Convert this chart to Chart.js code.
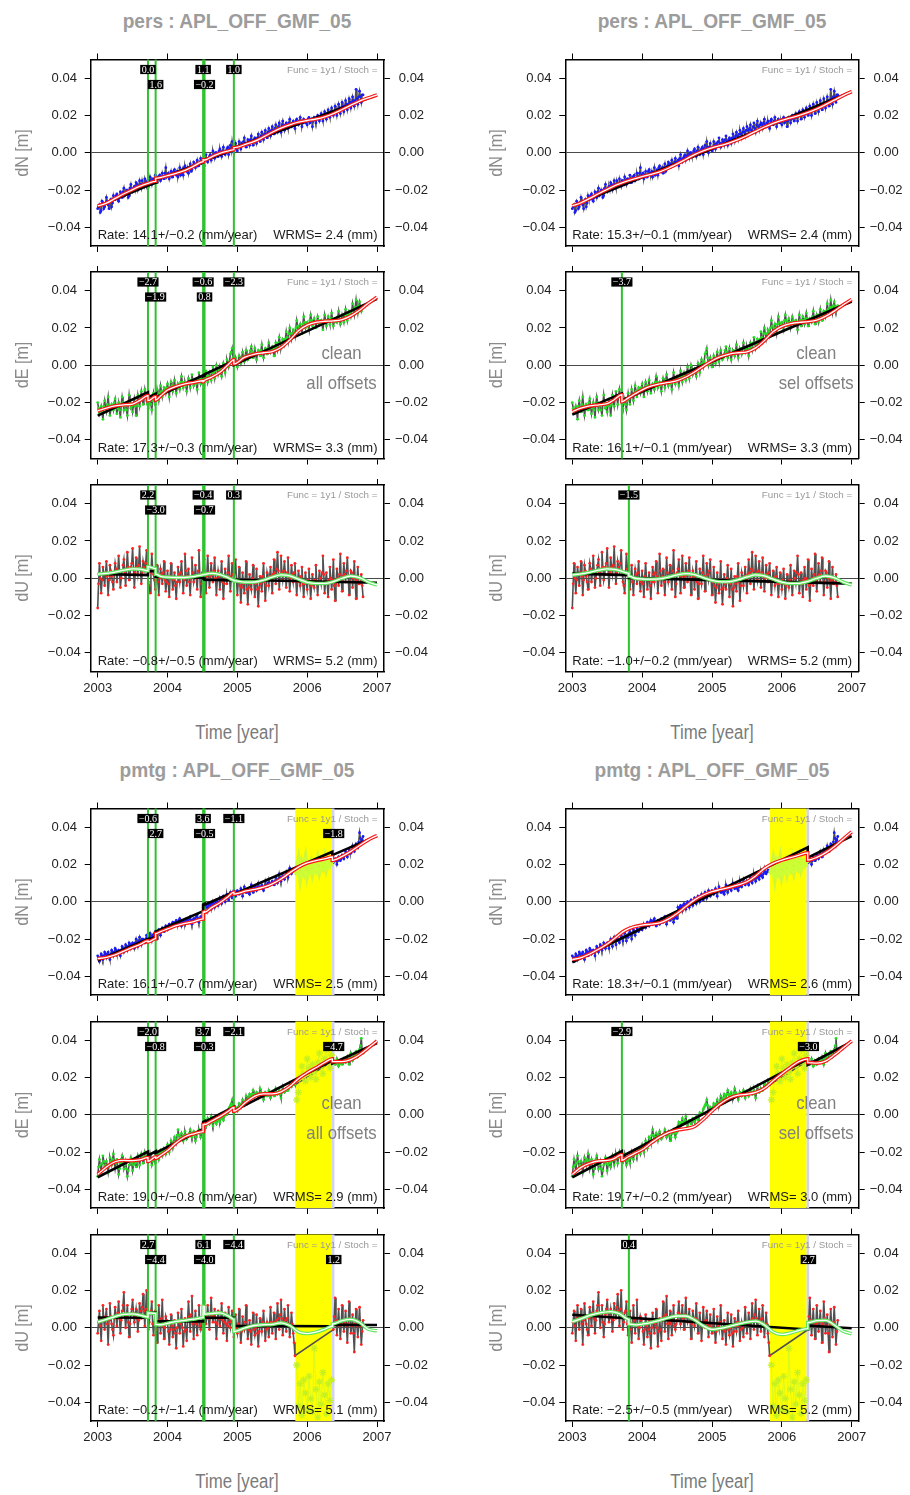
<!DOCTYPE html>
<html><head><meta charset="utf-8">
<script src="https://cdn.jsdelivr.net/npm/chart.js@4.4.1/dist/chart.umd.min.js"></script>
<style>
html,body{margin:0;padding:0;background:#fff;}
body{width:910px;height:1495px;position:relative;overflow:hidden;}
canvas{position:absolute;}
.t{position:absolute;white-space:nowrap;line-height:1;z-index:5;}
</style></head><body>
<script>
// ---------- tick labels / categories ----------
const yearTicks = [2003, 2004, 2005, 2006, 2007];
const yTicks = [-0.04, -0.02, 0, 0.02, 0.04];
const epochStart = 2003.0, epochStep = 0.025;          // sampling of the series (main epochs)
const halfOffset = 0.0125;                             // intermediate epochs
const groupTitles = ['pers : APL_OFF_GMF_05', 'pmtg : APL_OFF_GMF_05'];
const compTitles = {N: 'dN [m]', E: 'dE [m]', U: 'dU [m]'};
const funcText = 'Func = 1y1 / Stoch =';
const yellowSpan = [2005.83, 2006.355];
const flagStartIndex = 114;

// ---------- raw series (mm), main epochs ----------
const persN = [
-30,-28,-31,-27,-29,-24,-28,-26,-29,-23, -25,-22,-26,-21,-24,-19,-22,-20,-23,-17,
-21,-18,-16,-20,-15,-19,-17,-14,-18,-15, -13,-17,-14,-12,-16,-13,-15,-11,-14,-8,
-12,-14,-10,-13,-9,-12,-13,-8,-11,-12, -7,-10,-11,-6,-9,-5,-8,-4,-7,-3,
-6,-7,-1,-5,-2,-4,1,-3,0,-2, 2,-2,3,-1,2,-1,4,6,0,5,
1,6,2,4,8,3,7,4,9,4, 8,5,10,6,11,7,12,8,13,9,
14,10,15,11,16,11,17,12,16,13, 18,14,17,13,18,15,19,14,18,16,
15,19,17,14,19,16,20,17,21,17, 22,18,23,19,24,20,25,20,26,21,
27,22,28,23,29,24,30,25,34,26, 33,27,31];
const persE = [
-20,-26,-22,-29,-19,-25,-17,-27,-21,-24, -18,-26,-20,-28,-17,-24,-21,-27,-16,-23,
-25,-18,-27,-16,-22,-14,-21,-13,-19,-23, -18,-24,-15,-21,-13,-19,-11,-17,-12,-15,
-10,-17,-9,-14,-8,-15,-10,-13,-6,-12, -9,-14,-7,-12,-5,-11,-8,-13,-4,-10,
-6,-11,-3,-9,-4,-8,-1,-7,0,-5, -2,-6,1,-4,3,-1,6,9,0,4,
-1,5,1,7,2,8,3,6,10,4, 9,3,8,5,11,4,9,6,12,7,
10,5,12,8,15,9,14,11,18,13, 20,14,19,16,24,18,22,17,26,20,
23,19,27,21,25,20,26,22,24,19, 27,21,26,22,28,21,25,23,29,22,
27,23,30,24,29,26,33,27,35,28, 34,29,32];
const persU = [
-16,8,-8,6,-4,9,-9,7,1,-6, 8,-2,12,-5,4,10,-4,14,-1,6,
16,-5,11,2,17,-3,9,4,15,-2, -8,13,2,-6,7,-9,5,-3,9,-7,
4,-10,8,-6,3,-11,6,-2,9,-8, 13,-4,5,-9,11,-2,7,-6,15,-10,
3,10,-8,12,-5,8,-2,11,-9,4, -6,9,-11,5,-3,12,-7,8,-1,10,
-9,6,-13,3,-8,9,-14,2,-6,7, -10,5,-15,1,-7,8,-12,3,-4,6,
-8,10,-3,14,-6,12,-1,9,-5,11, -7,7,-2,8,-9,4,-4,6,-10,3,
-6,5,-11,2,-5,7,-9,4,-3,12, -8,3,-10,6,-6,10,-12,5,-4,13,
-7,8,-2,11,-9,4,-5,9,-11,6, -3,2,-10];
const pmtgN = [
-29,-32,-28,-31,-27,-30,-27,-31,-26,-29, -25,-28,-26,-29,-24,-27,-23,-26,-22,-25,
-22,-25,-20,-24,-19,-23,-20,-22,-18,-21, -17,-21,-19,-16,-20,-15,-18,-14,-16,-13,
-15,-12,-14,-11,-13,-10,-12,-9,-13,-10, -12,-9,-11,-8,-12,-9,-10,-7,-11,-8,
-9,-4,-2,-5,-1,-4,0,-3,1,-2, 2,-1,3,0,4,1,5,2,6,3,
6,4,7,3,8,5,6,4,9,5, 8,6,10,7,9,6,11,8,12,9,
11,9,13,10,15,11,14,12,16,13, 18,15,17,16,
null,null,null,null,null,null,null,null,null,null,null,null,null,null,null,null,null,null,null,null,null,
21,23,20,24,22, 25,23,27,24,28,26,30,27,31,29, 37,32,35];
const pmtgE = [
-33,-24,-30,-22,-28,-25,-31,-23,-27,-21, -29,-24,-32,-26,-22,-29,-25,-33,-27,-23,
-30,-25,-28,-22,-27,-21,-26,-20,-23,-25, -21,-27,-23,-26,-20,-24,-19,-22,-18,-21,
-16,-20,-14,-18,-12,-15,-8,-13,-10,-14, -9,-13,-11,-8,-12,-9,-14,-10,-8,-12,
-9,-4,-6,-2,-5,-1,-6,-3,-5,-2, -4,-1,-3,1,0,3,5,8,1,4,
2,6,4,8,5,10,7,11,9,13, 10,12,9,14,11,8,12,10,13,9,
12,10,14,11,13,9,15,12,14,13, 17,15,18,16,
null,null,null,null,null,null,null,null,null,null,null,null,null,null,null,null,null,null,null,null,null,
29,27,30,26,29, 27,30,28,31,27,33,29,32,34,31, 35,41,33];
const pmtgU = [
-3,9,-7,12,-1,10,-9,13,2,-4, 11,1,14,-3,9,19,0,12,-5,7,
15,3,10,-2,13,5,18,1,20,-1, 8,14,-4,9,-8,12,-3,15,-6,6,
2,-9,7,-5,4,-11,8,-3,10,-10, 5,-7,14,-2,17,-6,9,-4,12,-1,
4,14,2,12,-1,16,3,10,-6,9, 1,13,-3,8,-7,11,0,9,-5,7,
-3,10,-8,6,-1,12,-6,4,-9,8, -4,7,-10,5,-2,9,-7,3,-5,11,
-3,8,-6,13,-1,15,-4,10,-2,12, -5,8,-3,-15,
null,null,null,null,null,null,null,null,null,null,null,null,null,null,null,null,null,null,null,null,null,
-1,16,-4,10,-6, 12,-2,9,-8,14,-3,7,-13,10,-5, 11,-9,4];

// ---------- raw series (mm), intermediate epochs ----------
const persN_h = [
-29,-32,-26,-30,-27,-26,-30,-25,-27,-25, -23,-25,-24,-22,-21,-23,-20,-24,-19,-20,
-19,-20,-17,-18,-17,-15,-18,-16,-15,-17, -15,-14,-15,-16,-13,-12,-14,-13,-11,-13,
-11,-12,-13,-10,-11,-10,-11,-12,-9,-8, -9,-8,-8,-10,-7,-6,-6,-7,-5,-5,
-4,-3,-4,-3,-1,-2,-1,0,-2,1, 0,1,0,1,3,2,1,3,3,2,
3,4,5,6,5,5,6,7,6,7, 7,8,8,9,9,10,10,11,11,12,
12,13,12,14,13,15,14,15,15,16, 15,16,15,17,16,17,17,16,17,17,
18,16,18,17,18,18,19,19,19,20, 20,21,21,22,22,22,23,23,24,24,
25,25,26,26,27,27,28,28,29,30, 30,31];
const persE_h = [
-23,-24,-25,-22,-23,-21,-22,-24,-22,-20, -22,-23,-24,-21,-20,-22,-24,-21,-20,-22,
-21,-22,-21,-19,-18,-17,-17,-16,-21,-20, -21,-19,-18,-17,-16,-15,-14,-14,-13,-12,
-13,-12,-11,-11,-12,-12,-11,-9,-9,-10, -11,-10,-9,-8,-8,-9,-10,-8,-7,-8,
-8,-7,-6,-6,-6,-4,-4,-3,-2,-3, -4,-2,-1,0,1,2,7,4,2,1,
2,3,4,4,5,5,4,8,7,6, 6,6,7,8,7,7,8,9,9,9,
8,9,10,12,12,11,13,14,15,17, 17,17,18,20,21,20,20,22,23,22,
21,24,24,23,23,23,24,23,22,23, 24,24,24,25,25,23,24,26,25,24,
25,27,27,27,28,29,30,31,31,32, 31,31];
const persU_h = [
-3,0,-1,2,3,1,-1,4,-2,2, 5,3,4,0,7,3,5,6,2,8,
5,3,6,7,5,3,6,8,4,-4, 3,5,-1,1,-2,0,2,3,-1,-2,
-3,1,0,-1,-4,-2,2,3,1,-1, 4,1,-2,0,3,1,0,4,2,-3,
5,2,1,3,1,2,4,0,-1,1, 2,-2,-3,0,3,1,0,2,4,-1,
-2,-4,-5,-3,-1,-6,-5,-3,0,-2, -3,-6,-5,-3,1,-2,-4,0,1,-1,
2,3,5,4,2,3,4,2,3,1, 0,2,3,-1,-2,0,1,-3,-3,-2,
-1,-3,-4,-2,-1,-3,-2,0,3,2, -2,-3,-1,0,-1,-4,-3,0,2,-1,
1,2,4,1,-2,3,0,-2,-1,-3, -2,-4];
const pmtgN_h = [
-30,-30,-29,-29,-28,-28,-29,-28,-27,-27, -26,-27,-27,-26,-25,-25,-24,-24,-23,-23,
-23,-22,-22,-21,-21,-20,-21,-20,-19,-19, -19,-18,-17,-18,-17,-16,-16,-15,-15,-14,
-13,-13,-12,-12,-11,-11,-10,-11,-11,-11, -10,-10,-9,-10,-10,-9,-8,-9,-9,-8,
-3,-3,-3,-2,-2,-1,-1,0,0,0, 1,1,2,2,2,3,3,4,4,5,
5,5,5,6,6,5,5,6,7,7, 7,8,8,8,7,8,9,10,10,10,
10,11,11,12,13,13,13,14,14,15, 16,16,17,
null,null,null,null,null,null,null,null,null,null,null,null,null,null,null,null,null,null,null,null,null,null,
22,22,22,23,23, 24,25,25,26,26,27,28,29,30,32, 34,33];
const pmtgE_h = [
-28,-27,-26,-25,-27,-28,-27,-25,-24,-25, -26,-28,-29,-24,-25,-27,-29,-30,-25,-26,
-27,-26,-25,-24,-24,-23,-23,-22,-24,-24, -24,-25,-24,-23,-22,-21,-20,-20,-19,-18,
-18,-17,-16,-15,-13,-11,-11,-12,-12,-11, -11,-12,-10,-10,-10,-11,-12,-9,-10,-10,
-6,-5,-4,-4,-3,-4,-4,-4,-3,-3, -2,-2,-1,0,1,4,6,5,2,3,
4,5,6,6,7,8,9,10,11,11, 11,10,11,12,10,10,11,11,11,11,
11,12,12,12,11,12,13,13,13,14, 16,16,17,
null,null,null,null,null,null,null,null,null,null,null,null,null,null,null,null,null,null,null,null,null,null,
28,28,28,27,28, 28,29,29,29,30,31,30,33,33,32, 37,34];
const pmtgU_h = [
3,1,5,4,6,2,4,6,-1,5, 6,8,5,4,12,7,6,3,2,10,
8,6,5,4,9,11,9,10,7,3, 9,2,3,-1,2,4,5,1,0,4,
-2,-1,1,-1,-3,0,3,2,0,-2, -1,4,6,7,2,3,2,4,1,2,
8,7,6,5,7,6,6,3,2,5, 5,4,3,2,1,3,4,2,1,0,
2,-1,-2,1,3,0,-1,-2,1,-1, 0,-3,-2,1,3,1,-1,0,2,3,
2,3,4,5,7,5,3,4,5,2, 1,2,-8,
null,null,null,null,null,null,null,null,null,null,null,null,null,null,null,null,null,null,null,null,null,null,
6,4,3,1,2, 4,3,1,2,5,1,-3,2,1,3, 1,-2];

// flagged (yellow window) values, mm
const pmtgN_flag = [16,21,14,20,17,22,15,19,21,16,20,18,22,17,21,19,23,18,21,20,22];
const pmtgE_flag = [8,12,20,26,22,18,30,25,20,27,23,19,28,33,26,22,30,35,28,25,32];
const pmtgU_flag = [-20,-42,-30,-47,-28,-35,-44,-26,-38,-45,-11,-33,-48,-29,-41,-24,-36,-46,-30,-39,-28];

// ---------- models [year, mm] ----------
const persN_L_model = [[2003.0,-28.5],[2003.125,-27],[2003.25,-24.5],[2003.375,-22],[2003.5,-19.8],[2003.6,-18],[2003.72,-16.4],[2003.83,-15.3],[2003.83,-13.7],[2004.0,-12.3],[2004.125,-11],[2004.25,-9.5],[2004.375,-7.2],[2004.51,-4.8],[2004.51,-3.7],[2004.53,-3.9],[2004.625,-2.3],[2004.75,-0.3],[2004.875,1.0],[2004.95,1.7],[2004.95,2.7],[2005.125,4.6],[2005.25,6.2],[2005.375,8.5],[2005.5,11.0],[2005.625,13.2],[2005.75,15.0],[2005.875,16.4],[2006.0,17.3],[2006.125,18.1],[2006.25,19.3],[2006.375,21.0],[2006.5,23.2],[2006.625,25.5],[2006.75,27.7],[2006.875,29.4],[2007.0,31.0]];
const persN_L_black = [[2003.0,-28.8],[2003.72,-17.6],[2003.83,-16.1],[2003.83,-14.5],[2004.51,-5.2],[2004.51,-4.1],[2004.53,-3.8],[2004.53,-4.0],[2004.95,1.6],[2004.95,2.6],[2007.0,31.0]];
const persN_R_model = [[2003.0,-28.5],[2003.125,-26.8],[2003.25,-24.5],[2003.375,-22],[2003.5,-19.6],[2003.625,-17.4],[2003.75,-15.6],[2003.875,-14.1],[2004.0,-12.8],[2004.125,-11.6],[2004.25,-10.2],[2004.375,-8.3],[2004.5,-6.0],[2004.625,-3.5],[2004.75,-1.0],[2004.875,1.0],[2005.0,2.6],[2005.125,3.9],[2005.25,5.3],[2005.375,7.0],[2005.5,9.1],[2005.625,11.5],[2005.75,13.8],[2005.875,15.8],[2006.0,17.4],[2006.125,18.7],[2006.25,20.0],[2006.375,21.6],[2006.5,23.5],[2006.625,25.8],[2006.75,28.2],[2006.875,30.6],[2007.0,32.8]];
const persN_R_black = [[2003.0,-28.5],[2007.0,32.7]];

const persE_L_model = [[2003.0,-24.5],[2003.125,-23],[2003.25,-21.8],[2003.375,-21.2],[2003.5,-20.8],[2003.6,-19],[2003.72,-16.3],[2003.72,-19.0],[2003.83,-16.8],[2003.83,-18.7],[2003.9,-16.5],[2004.0,-13.3],[2004.125,-11.3],[2004.25,-10.0],[2004.375,-9.2],[2004.51,-8.3],[2004.51,-8.9],[2004.53,-8.1],[2004.625,-6.5],[2004.75,-3.8],[2004.875,0.5],[2004.95,3.0],[2004.95,0.7],[2005.1,4.2],[2005.25,6.0],[2005.375,6.7],[2005.5,7.3],[2005.625,9.5],[2005.75,13.5],[2005.875,18.5],[2006.0,21.5],[2006.125,23],[2006.25,23.6],[2006.375,23.8],[2006.5,24.5],[2006.625,26.5],[2006.75,29.5],[2006.875,33.2],[2007.0,36.5]];
const persE_L_black = [[2003.0,-27.0],[2003.72,-14.5],[2003.72,-17.2],[2003.83,-15.3],[2003.83,-17.2],[2004.51,-5.4],[2004.51,-6.0],[2004.53,-5.7],[2004.53,-4.9],[2004.95,2.4],[2004.95,0.1],[2007.0,35.6]];
const persE_R_model = [[2003.0,-24.8],[2003.125,-23],[2003.25,-21.8],[2003.375,-21.2],[2003.5,-20.6],[2003.6,-18.5],[2003.71,-15.8],[2003.71,-19.6],[2003.8,-17.6],[2003.9,-15.3],[2004.0,-13.2],[2004.125,-11.2],[2004.25,-10.0],[2004.375,-9.2],[2004.5,-8.2],[2004.625,-6.3],[2004.75,-3.6],[2004.875,-0.5],[2005.0,2.4],[2005.125,4.6],[2005.25,6.0],[2005.375,6.7],[2005.5,7.2],[2005.625,9.3],[2005.75,13.2],[2005.875,18],[2006.0,20.8],[2006.125,22.3],[2006.25,23.0],[2006.375,23.4],[2006.5,24.2],[2006.625,26.2],[2006.75,29.0],[2006.875,32.3],[2007.0,35.3]];
const persE_R_black = [[2003.0,-26.5],[2003.71,-15.1],[2003.71,-18.8],[2007.0,34.2]];

const persU_L_model = [[2003.0,2.2],[2003.125,2.6],[2003.25,3.3],[2003.375,4.3],[2003.5,5.0],[2003.6,4.9],[2003.72,4.0],[2003.72,6.2],[2003.83,5.2],[2003.83,2.2],[2003.9,1.0],[2004.0,0.6],[2004.125,0.4],[2004.25,0.4],[2004.375,0.9],[2004.5,1.8],[2004.625,2.6],[2004.75,2.0],[2004.875,0.2],[2004.95,-1.0],[2004.95,-1.3],[2005.1,-2.1],[2005.25,-2.0],[2005.375,-1.0],[2005.5,0.6],[2005.625,1.8],[2005.75,1.3],[2005.875,-0.5],[2006.0,-2.2],[2006.125,-2.8],[2006.25,-2.8],[2006.375,-1.8],[2006.5,0],[2006.625,1.2],[2006.75,0.3],[2006.875,-2.0],[2007.0,-3.6]];
const persU_L_black = [[2003.0,2.3],[2003.72,1.7],[2003.72,3.9],[2003.83,3.8],[2003.83,0.8],[2004.51,0.3],[2004.51,-0.1],[2004.53,-0.1],[2004.53,-0.8],[2004.95,-1.1],[2004.95,-0.8],[2007.0,-2.4]];
const persU_R_model = [[2003.0,1.8],[2003.125,2.3],[2003.25,3.2],[2003.375,4.3],[2003.5,5.0],[2003.625,4.6],[2003.75,3.2],[2003.81,2.6],[2003.81,1.1],[2003.9,0],[2004.0,-0.4],[2004.125,-0.5],[2004.25,-0.3],[2004.375,0.6],[2004.5,1.8],[2004.625,2.5],[2004.75,2.0],[2004.875,0.3],[2005.0,-1.2],[2005.125,-1.9],[2005.25,-1.8],[2005.375,-0.8],[2005.5,0.7],[2005.625,1.8],[2005.75,1.3],[2005.875,-0.5],[2006.0,-2.1],[2006.125,-2.8],[2006.25,-2.7],[2006.375,-1.7],[2006.5,0],[2006.625,1.2],[2006.75,0.3],[2006.875,-2.0],[2007.0,-3.6]];
const persU_R_black = [[2003.0,2.5],[2003.81,1.7],[2003.81,0.2],[2007.0,-2.9]];

const pmtgN_L_model = [[2003.0,-30.5],[2003.125,-29.8],[2003.25,-28.5],[2003.375,-26.5],[2003.5,-24.5],[2003.6,-23],[2003.72,-21],[2003.72,-21.6],[2003.83,-19.8],[2003.83,-17.1],[2003.9,-16.0],[2004.0,-14.6],[2004.125,-12.8],[2004.25,-11.6],[2004.375,-10.7],[2004.51,-9.2],[2004.51,-5.6],[2004.53,-5.2],[2004.53,-5.7],[2004.625,-3.3],[2004.75,-0.5],[2004.875,3.0],[2004.95,5.2],[2004.95,4.1],[2005.125,5.8],[2005.25,6.6],[2005.375,7.8],[2005.5,9.6],[2005.625,12.2],[2005.75,15.5],[2005.875,18.6],[2006.0,20.8],[2006.125,22.0],[2006.25,23.0],[2006.36,24.0],[2006.36,22.2],[2006.5,24.3],[2006.625,27.0],[2006.75,30.2],[2006.875,33.2],[2007.0,35.5]];
const pmtgN_L_black = [[2003.0,-31.5],[2003.72,-19.9],[2003.72,-20.5],[2003.83,-18.7],[2003.83,-16.0],[2004.51,-5.1],[2004.51,-1.5],[2004.53,-1.1],[2004.53,-1.6],[2004.95,5.2],[2004.95,4.1],[2006.36,26.8],[2006.36,25.0],[2007.0,35.3]];
const pmtgN_R_model = [[2003.0,-31],[2003.125,-30],[2003.25,-28],[2003.375,-25.5],[2003.5,-22.7],[2003.625,-19],[2003.75,-15.5],[2003.875,-13.5],[2004.0,-12.5],[2004.125,-12],[2004.25,-11.3],[2004.375,-9.3],[2004.5,-6.3],[2004.625,-2.6],[2004.75,1.0],[2004.875,3.6],[2005.0,5.4],[2005.125,6.6],[2005.25,7.7],[2005.375,9.0],[2005.5,10.7],[2005.625,13.8],[2005.75,17.9],[2005.875,20.6],[2006.0,22.3],[2006.125,23.7],[2006.25,25.0],[2006.37,26.2],[2006.37,22.3],[2006.5,23.8],[2006.625,26.2],[2006.75,29.5],[2006.875,33.5],[2007.0,37.5]];
const pmtgN_R_black = [[2003.0,-32.5],[2006.37,29.2],[2006.37,23.7],[2007.0,35.2]];

const pmtgE_L_model = [[2003.0,-32],[2003.125,-28],[2003.25,-25.2],[2003.375,-24.5],[2003.5,-24.6],[2003.6,-24.2],[2003.72,-23.0],[2003.72,-25.0],[2003.83,-22.6],[2003.83,-23.4],[2003.9,-21.8],[2004.0,-19.2],[2004.125,-15],[2004.25,-11.8],[2004.375,-10.2],[2004.51,-9.0],[2004.51,-5.3],[2004.53,-5.0],[2004.53,-5.3],[2004.625,-3.5],[2004.75,-1.0],[2004.875,2.0],[2004.95,4.0],[2004.95,1.9],[2005.125,6.8],[2005.25,10.0],[2005.375,11.2],[2005.5,11.2],[2005.625,12.3],[2005.75,15.2],[2005.875,19.3],[2006.0,22.5],[2006.125,25.2],[2006.25,28.0],[2006.36,30.0],[2006.36,28.5],[2006.5,28.5],[2006.625,29.6],[2006.75,32.2],[2006.875,35.8],[2007.0,39.6]];
const pmtgE_L_black = [[2003.0,-33.5],[2003.72,-19.8],[2003.72,-21.8],[2003.83,-19.7],[2003.83,-20.5],[2004.51,-7.6],[2004.51,-3.9],[2004.53,-3.5],[2004.53,-3.8],[2004.95,4.2],[2004.95,2.1],[2006.36,29.0],[2006.36,27.5],[2007.0,38.5]];
const pmtgE_R_model = [[2003.0,-32],[2003.125,-28.2],[2003.25,-26],[2003.375,-24.8],[2003.5,-24.5],[2003.6,-23.5],[2003.71,-21.4],[2003.71,-24.5],[2003.8,-22.5],[2003.9,-20.6],[2004.0,-18.8],[2004.125,-15.2],[2004.25,-12.0],[2004.375,-9.6],[2004.5,-8.2],[2004.625,-7.5],[2004.75,-6.2],[2004.875,-2.5],[2005.0,2.0],[2005.125,6.0],[2005.25,9.0],[2005.375,10.5],[2005.5,11.0],[2005.625,12],[2005.75,14.2],[2005.875,18.2],[2006.0,22.0],[2006.125,25.5],[2006.25,28.6],[2006.37,30.0],[2006.37,28.0],[2006.5,27.7],[2006.625,28.8],[2006.75,32.0],[2006.875,35.8],[2007.0,39.6]];
const pmtgE_R_black = [[2003.0,-33.5],[2003.71,-19.5],[2003.71,-22.4],[2006.37,29.8],[2006.37,26.8],[2007.0,39.2]];

const pmtgU_L_model = [[2003.0,3.0],[2003.125,4.5],[2003.25,6.0],[2003.375,7.2],[2003.5,7.4],[2003.6,6.8],[2003.72,5.7],[2003.72,8.0],[2003.83,7.6],[2003.83,1.8],[2003.9,1.6],[2004.0,2.4],[2004.125,3.4],[2004.25,4.0],[2004.375,4.6],[2004.51,5.4],[2004.51,11.5],[2004.53,11.3],[2004.53,7.3],[2004.625,7.6],[2004.75,8.0],[2004.875,6.2],[2004.95,4.5],[2004.95,-2.0],[2005.1,-0.2],[2005.25,1.2],[2005.375,1.6],[2005.5,1.8],[2005.625,2.6],[2005.75,1.2],[2005.875,-2.2],[2006.0,-3.1],[2006.125,-2.4],[2006.25,-0.8],[2006.36,0.8],[2006.36,2.0],[2006.5,3.8],[2006.625,4.5],[2006.75,2.8],[2006.875,-0.8],[2007.0,-1.6]];
const pmtgU_L_black = [[2003.0,5.5],[2003.72,5.4],[2003.72,8.1],[2003.83,8.1],[2003.83,3.5],[2004.51,3.4],[2004.51,9.5],[2004.53,9.5],[2004.53,5.5],[2004.95,5.4],[2004.95,1.0],[2006.36,0.8],[2006.36,1.6],[2007.0,1.5]];
const pmtgU_R_model = [[2003.0,3.2],[2003.125,4.8],[2003.25,6.6],[2003.375,7.8],[2003.55,8.6],[2003.675,7.5],[2003.81,4.5],[2003.81,2.0],[2003.9,1.5],[2004.0,2.0],[2004.125,2.8],[2004.25,4.0],[2004.375,5.3],[2004.5,6.3],[2004.625,6.3],[2004.75,4.2],[2004.875,1.0],[2005.0,-0.9],[2005.125,-0.3],[2005.25,0.8],[2005.375,2.0],[2005.5,3.0],[2005.625,3.6],[2005.75,1.5],[2005.875,-2.3],[2006.0,-3.6],[2006.125,-2.8],[2006.25,-1.4],[2006.37,-0.5],[2006.37,2.8],[2006.5,3.8],[2006.625,4.0],[2006.75,1.5],[2006.875,-1.8],[2007.0,-3.2]];
const pmtgU_R_black = [[2003.0,7.0],[2003.81,5.0],[2003.81,5.4],[2006.37,-0.9],[2006.37,1.2],[2007.0,-0.3]];

// ---------- offsets ----------
const allOffTimes = [2003.72, 2003.83, 2004.51, 2004.53, 2004.95];
const persN_L_offLabels = ['0.0','1.6','1.1','−0.2','1.0'];
const persE_L_offLabels = ['−2.7','−1.9','−0.6','0.8','−2.3'];
const persU_L_offLabels = ['2.2','−3.0','−0.4','−0.7','0.3'];
const pmtgN_L_offLabels = ['−0.6','2.7','3.6','−0.5','−1.1'];
const pmtgE_L_offLabels = ['−2.0','−0.8','3.7','−0.3','−2.1'];
const pmtgU_L_offLabels = ['2.7','−4.4','6.1','−4.0','−4.4'];
const selOffTimesE = [2003.71], selOffTimesU = [2003.81];
const persE_R_offLabels = ['−3.7'], persU_R_offLabels = ['−1.5'];
const pmtgE_R_offLabels = ['−2.9'], pmtgU_R_offLabels = ['0.4'];
const flagEndTime = 2006.38;
const pmtgFlagLabelsL = {N: '−1.8', E: '−4.7', U: '1.2'};
const pmtgFlagLabelsR = {N: null, E: '−3.0', U: '2.7'};

const rates = {
  persL: ['Rate: 14.1+/−0.2 (mm/year)', 'Rate: 17.3+/−0.3 (mm/year)', 'Rate: −0.8+/−0.5 (mm/year)'],
  persR: ['Rate: 15.3+/−0.1 (mm/year)', 'Rate: 16.1+/−0.1 (mm/year)', 'Rate: −1.0+/−0.2 (mm/year)'],
  pmtgL: ['Rate: 16.1+/−0.7 (mm/year)', 'Rate: 19.0+/−0.8 (mm/year)', 'Rate: −0.2+/−1.4 (mm/year)'],
  pmtgR: ['Rate: 18.3+/−0.1 (mm/year)', 'Rate: 19.7+/−0.2 (mm/year)', 'Rate: −2.5+/−0.5 (mm/year)']
};
const wrms = {
  persL: ['WRMS= 2.4 (mm)', 'WRMS= 3.3 (mm)', 'WRMS= 5.2 (mm)'],
  persR: ['WRMS= 2.4 (mm)', 'WRMS= 3.3 (mm)', 'WRMS= 5.2 (mm)'],
  pmtgL: ['WRMS= 2.5 (mm)', 'WRMS= 2.9 (mm)', 'WRMS= 5.1 (mm)'],
  pmtgR: ['WRMS= 2.6 (mm)', 'WRMS= 3.0 (mm)', 'WRMS= 5.2 (mm)']
};
const notesL = 'all offsets', notesR = 'sel offsets';

// ---------- layout ----------
const SANS = "'Liberation Sans', Arial, Helvetica, sans-serif";
const SERIF = "'Liberation Serif', 'Times New Roman', serif";
const PLOT_L = [90.7, 565.3], PLOT_R = [384, 858.7];
const PANEL_TOP = [59.5, 272, 485, 808.5, 1021.5, 1234.5];
const PANEL_H = 186.5, CANVAS_H = 247, CANVAS_W = 455;
const TITLE_Y = [21, 770], TIME_Y = [732.3, 1481.3];
const COL_CENTER = [237.4, 712];

const sampleTimes = persN.map((_, i) => +(epochStart + i * epochStep).toFixed(4));
const dotColor = {N: '#1a1aff', E: '#22dd22', U: '#ff2222'};

function rawPts(vals, halfVals) {
  const out = [];
  vals.forEach((v, i) => {
    out.push({x: sampleTimes[i], y: v === null ? null : v / 1000});
    if (i < halfVals.length) {
      const h = halfVals[i];
      out.push({x: sampleTimes[i] + halfOffset, y: h === null ? null : h / 1000});
    }
  });
  return out;
}
function flagPts(vals) { return vals.map((v, i) => ({x: sampleTimes[flagStartIndex + i], y: v / 1000})); }
function pairPts(pairs) { return pairs.map(p => ({x: p[0], y: p[1] / 1000})); }
function fmtY(v) { return (v < 0 ? '−' : '') + Math.abs(v).toFixed(2); }

const panels = [];
const comps = ['N', 'E', 'U'];
const raws = {pers: {N: [persN, persN_h], E: [persE, persE_h], U: [persU, persU_h]},
              pmtg: {N: [pmtgN, pmtgN_h], E: [pmtgE, pmtgE_h], U: [pmtgU, pmtgU_h]}};
const flags = {N: pmtgN_flag, E: pmtgE_flag, U: pmtgU_flag};
const models = {
  persL: [[persN_L_model, persN_L_black], [persE_L_model, persE_L_black], [persU_L_model, persU_L_black]],
  persR: [[persN_R_model, persN_R_black], [persE_R_model, persE_R_black], [persU_R_model, persU_R_black]],
  pmtgL: [[pmtgN_L_model, pmtgN_L_black], [pmtgE_L_model, pmtgE_L_black], [pmtgU_L_model, pmtgU_L_black]],
  pmtgR: [[pmtgN_R_model, pmtgN_R_black], [pmtgE_R_model, pmtgE_R_black], [pmtgU_R_model, pmtgU_R_black]]
};
const offsets = {
  persL: [[allOffTimes, persN_L_offLabels], [allOffTimes, persE_L_offLabels], [allOffTimes, persU_L_offLabels]],
  persR: [[[], []], [selOffTimesE, persE_R_offLabels], [selOffTimesU, persU_R_offLabels]],
  pmtgL: [[allOffTimes, pmtgN_L_offLabels], [allOffTimes, pmtgE_L_offLabels], [allOffTimes, pmtgU_L_offLabels]],
  pmtgR: [[[], []], [selOffTimesE, pmtgE_R_offLabels], [selOffTimesU, pmtgU_R_offLabels]]
};

['pers', 'pmtg'].forEach((st, g) => {
  [0, 1].forEach(c => {
    const key = st + (c === 0 ? 'L' : 'R');
    comps.forEach((comp, k) => {
      const [offT, offL] = offsets[key][k];
      const labels = offT.map((t, i) => ({t, text: offL[i], row: i % 2 === 0 ? 1 : 2}));
      if (st === 'pmtg') {
        const fl = (c === 0 ? pmtgFlagLabelsL : pmtgFlagLabelsR)[comp];
        if (fl) labels.push({t: flagEndTime, text: fl, row: 2});
      }
      panels.push({
        g, c, row: g * 3 + k, comp, raw: raws[st][comp],
        flag: st === 'pmtg' ? flags[comp] : null,
        model: models[key][k][0], black: models[key][k][1],
        offT, labels, rate: rates[key][k], wrms: wrms[key][k],
        note: comp === 'E' ? (c === 0 ? notesL : notesR) : null,
        yellow: st === 'pmtg', showX: k === 2
      });
    });
  });
});

function makeDeco(p) {
  return {
    id: 'deco',
    beforeDatasetsDraw(chart) {
      if (!p.yellow) return;
      const {ctx, chartArea: a} = chart, xs = chart.scales.x;
      const x0 = xs.getPixelForValue(yellowSpan[0]), x1 = xs.getPixelForValue(yellowSpan[1]);
      ctx.save();
      ctx.fillStyle = '#ffff00';
      ctx.fillRect(x0, a.top, x1 - x0, a.bottom - a.top);
      ctx.fillStyle = '#d2d2f2';
      ctx.fillRect(x1, a.top, 2.5, a.bottom - a.top);
      ctx.restore();
    },
    afterDatasetsDraw(chart) {
      const {ctx, chartArea: a} = chart, xs = chart.scales.x;
      ctx.save();
      ctx.font = '10px ' + SERIF;
      ctx.textAlign = 'center'; ctx.textBaseline = 'middle';
      p.labels.forEach(lb => {
        const px = xs.getPixelForValue(lb.t);
        const cy = a.top + (lb.row === 1 ? 10 : 25);
        const w = ctx.measureText(lb.text).width + 3;
        ctx.fillStyle = '#000';
        ctx.fillRect(px - w / 2, cy - 4.6, w, 9.2);
        ctx.fillStyle = '#fff';
        ctx.fillText(lb.text, px, cy + 0.5);
      });
      const xRight = a.right - 6.5, xLeft = a.left + 7;
      ctx.textBaseline = 'alphabetic';
      ctx.font = '9.8px ' + SANS; ctx.fillStyle = '#999'; ctx.textAlign = 'right';
      ctx.fillText(funcText, xRight, a.top + 13.4);
      ctx.font = '13px ' + SANS; ctx.fillStyle = '#1a1a1a';
      ctx.textAlign = 'left'; ctx.fillText(p.rate, xLeft, a.bottom - 7);
      ctx.textAlign = 'right'; ctx.fillText(p.wrms, xRight, a.bottom - 7);
      if (p.note) {
        ctx.fillStyle = '#808080'; ctx.font = '19px ' + SANS; ctx.textAlign = 'center';
        const cx = a.right - 42.5;
        [['clean', 87], [p.note, 117]].forEach(([s, dy]) => {
          ctx.save(); ctx.translate(cx, a.top + dy); ctx.scale(0.88, 1); ctx.fillText(s, 0, 0); ctx.restore();
        });
      }
      ctx.restore();
    }
  };
}

function buildDatasets(p) {
  const layers = [];
  layers.push({data: rawPts(p.raw[0], p.raw[1]), borderColor: '#505050', borderWidth: 1.6, pointRadius: 1.4,
    pointBackgroundColor: dotColor[p.comp], pointBorderWidth: 0, spanGaps: true, tension: 0});
  if (p.flag) {
    const isN = p.comp === 'N';
    layers.push({data: flagPts(p.flag), borderColor: isN ? 'rgba(205,245,60,0.95)' : 'rgba(205,245,40,0.9)', borderWidth: isN ? 5 : 0.8,
      pointStyle: isN ? 'circle' : 'star', pointRadius: isN ? 3 : 3.6,
      pointBackgroundColor: '#ccff33', pointBorderColor: '#c6f020', pointBorderWidth: isN ? 0 : 1.2, tension: 0});
  }
  p.offT.forEach(t => layers.push({data: [{x: t, y: -0.06}, {x: t, y: 0.06}], borderColor: '#2fc22f', borderWidth: 2, pointRadius: 0}));
  layers.push({data: pairPts(p.black), borderColor: '#000', borderWidth: 2.6, pointRadius: 0, tension: 0});
  const outer = p.comp === 'U' ? '#5fe65f' : '#ff1414';
  layers.push({data: pairPts(p.model), borderColor: outer, borderWidth: 3.6, pointRadius: 0, cubicInterpolationMode: 'monotone'});
  layers.push({data: pairPts(p.model), borderColor: '#ffffff', borderWidth: 1.3, pointRadius: 0, cubicInterpolationMode: 'monotone'});
  return layers.reverse();
}

function addText(txt, x, y, font, color, extra) {
  const d = document.createElement('div');
  d.className = 't'; d.textContent = txt;
  d.style.left = x + 'px'; d.style.top = y + 'px';
  d.style.font = font; d.style.color = color;
  d.style.transform = 'translate(-50%,-50%) ' + (extra || '');
  document.body.appendChild(d);
}

const borderOpt = {display: true, color: '#000', width: 1.5};
const tickFont = {family: SANS, size: 13};

panels.forEach(p => {
  const top = PANEL_TOP[p.row];
  const cLeft = p.c * 455, cTop = Math.floor(top - 20);
  const topH = top - cTop, bottomH = CANVAS_H - topH - PANEL_H;
  const leftW = PLOT_L[p.c] - cLeft, rightW = cLeft + CANVAS_W - PLOT_R[p.c];
  const cv = document.createElement('canvas');
  cv.width = CANVAS_W; cv.height = CANVAS_H;
  cv.style.left = cLeft + 'px'; cv.style.top = cTop + 'px';
  cv.style.width = CANVAS_W + 'px'; cv.style.height = CANVAS_H + 'px';
  document.body.appendChild(cv);
  const xTicksFn = s => { s.ticks = yearTicks.map(v => ({value: v})); };
  const yTicksFn = s => { s.ticks = yTicks.map(v => ({value: v})); };
  new Chart(cv.getContext('2d'), {
    type: 'line',
    data: {datasets: buildDatasets(p)},
    plugins: [makeDeco(p)],
    options: {
      responsive: false, animation: false, devicePixelRatio: 1, events: [],
      layout: {padding: 0},
      plugins: {legend: {display: false}, tooltip: {enabled: false}},
      scales: {
        x: {type: 'linear', position: 'bottom', min: 2002.9, max: 2007.1,
          afterBuildTicks: xTicksFn, afterFit: s => { s.height = bottomH; },
          ticks: {display: p.showX, font: tickFont, color: '#222', padding: 3, maxRotation: 0, autoSkip: false, callback: v => String(v)},
          grid: {drawOnChartArea: false, drawTicks: true, tickLength: 6, color: '#000', lineWidth: 1},
          border: borderOpt},
        xTop: {type: 'linear', position: 'top', min: 2002.9, max: 2007.1,
          afterBuildTicks: xTicksFn, afterFit: s => { s.height = topH; },
          ticks: {display: false},
          grid: {drawOnChartArea: false, drawTicks: true, tickLength: 6, color: '#000', lineWidth: 1},
          border: borderOpt},
        y: {type: 'linear', position: 'left', min: -0.05, max: 0.05,
          afterBuildTicks: yTicksFn, afterFit: s => { s.width = leftW; },
          ticks: {crossAlign: 'center', padding: 4, font: tickFont, color: '#222', callback: fmtY},
          grid: {drawOnChartArea: true, drawTicks: true, tickLength: 6, lineWidth: 1, tickColor: '#000',
            color: c => (c.tick && c.tick.value === 0) ? '#4a4a4a' : 'rgba(0,0,0,0)'},
          border: borderOpt},
        yRight: {type: 'linear', position: 'right', min: -0.05, max: 0.05,
          afterBuildTicks: yTicksFn, afterFit: s => { s.width = rightW; },
          ticks: {crossAlign: 'center', padding: 5, font: tickFont, color: '#222', callback: fmtY},
          grid: {drawOnChartArea: false, drawTicks: true, tickLength: 6, lineWidth: 1, color: '#000'},
          border: borderOpt}
      }
    }
  });
  addText(compTitles[p.comp], PLOT_L[p.c] - 69, top + PANEL_H / 2, '19px ' + SANS, '#8a8a8a', 'rotate(-90deg) scaleX(0.85)');
});

[0, 1].forEach(g => [0, 1].forEach(c => {
  addText(groupTitles[g], COL_CENTER[c], TITLE_Y[g], 'bold 21px ' + SANS, '#9c9c9c', 'scaleX(0.91)');
  addText('Time [year]', COL_CENTER[c], TIME_Y[g], '20px ' + SANS, '#7a7a7a', 'scaleX(0.84)');
}));
</script>
</body></html>
